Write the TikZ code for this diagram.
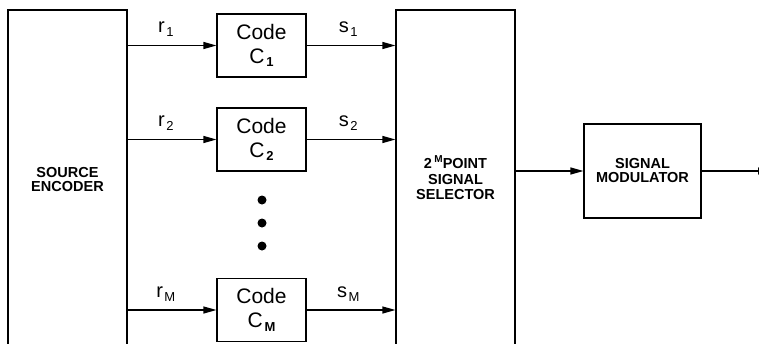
\documentclass[tikz,border=0pt]{standalone}
\usepackage{fontspec}
\setmainfont{Liberation Sans}
\usetikzlibrary{arrows.meta}
\newcommand\lowsub[1]{\kern1.5pt\raisebox{-4pt}{\fontsize{13}{13}\selectfont #1}}
\newcommand\boldsub[1]{\kern2pt\raisebox{-3.5pt}{\fontsize{13}{13}\selectfont\bfseries #1}}
\begin{document}
\begin{tikzpicture}[x=1pt,y=-1pt,
  box/.style={draw, line width=1.2pt, inner sep=0pt},
  arr/.style={-{Triangle[length=13pt,width=7pt]}, line width=1.2pt},
  codebox/.style={box, minimum width=89pt, minimum height=63pt, align=center,
    font=\fontsize{21}{24}\selectfont},
  lab/.style={font=\fontsize{20}{20}\selectfont, inner sep=0pt},
  bold/.style={font=\bfseries\fontsize{14.5}{14}\selectfont, align=center},
  dot/.style={circle, fill=black, inner sep=0pt, minimum size=9pt}]
\useasboundingbox (0,0) rectangle (759,343);
\clip (-1,0) rectangle (759,343);
% large boxes with open bottom
\node[box, bold, minimum width=119pt, minimum height=340pt] (src) at (67.5,180) {SOURCE\\ENCODER};
\node[box, bold, font=\bfseries\fontsize{14.5}{15.5}\selectfont, minimum width=119pt, minimum height=336pt] (sel) at (455.5,178)
  {2\,\raisebox{6pt}{\fontsize{10}{10}\selectfont M}POINT\\SIGNAL\\SELECTOR};
% code boxes
\node[codebox] (c1) at (261.5,45.5) {Code\\C\boldsub{1}};
\node[codebox] (c2) at (261.5,139.5) {Code\\C\boldsub{2}};
\node[codebox] (cm) at (261.5,310) {Code\\C\boldsub{M}};
% dots
\node[dot] (d1) at (262,200) {};
\node[dot] (d2) at (262,223) {};
\node[dot] (d3) at (262,246) {};
% modulator
\node[box, bold, minimum width=117pt, minimum height=94pt] (mod) at (642.5,171) {SIGNAL\\MODULATOR};
\coordinate (out) at (771,171);
% connectors
\draw[arr] (c1.west -| src.east) -- node[lab, pos=0.43, above=8pt] {r\lowsub{1}} (c1.west);
\draw[arr] (c2.west -| src.east) -- node[lab, pos=0.43, above=8pt] {r\lowsub{2}} (c2.west);
\draw[arr] (cm.west -| src.east) -- node[lab, pos=0.43, above=8pt] {r\lowsub{M}} (cm.west);
\draw[arr] (c1.east) -- node[lab, pos=0.47, above=8pt] {s\lowsub{1}} (c1.east -| sel.west);
\draw[arr] (c2.east) -- node[lab, pos=0.47, above=8pt] {s\lowsub{2}} (c2.east -| sel.west);
\draw[arr] (cm.east) -- node[lab, pos=0.47, above=8pt] {s\lowsub{M}} (cm.east -| sel.west);
\draw[arr] (mod.west -| sel.east) -- (mod.west);
\draw[arr] (mod.east) -- (out);
\end{tikzpicture}
\end{document}
